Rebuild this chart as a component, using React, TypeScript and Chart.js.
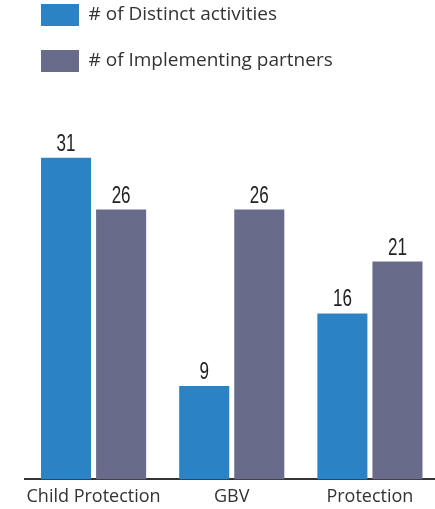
import React, { useEffect, useRef } from "react";
import { Chart, registerables } from "chart.js";

Chart.register(...registerables);

const categories = ["Child Protection", "GBV", "Protection"];
const seriesLabels = ["# of Distinct activities", "# of Implementing partners"];
const distinctActivities = [31, 9, 16];
const implementingPartners = [26, 26, 21];
const seriesColors = ["#2b82c4", "#686b8a"];
const Y_MAX = 38.3;

const valueLabelPlugin = {
  id: "valueLabels",
  afterDatasetsDraw(chart: any) {
    const ctx = chart.ctx;
    chart.data.datasets.forEach((ds: any, i: number) => {
      const meta = chart.getDatasetMeta(i);
      meta.data.forEach((bar: any, j: number) => {
        ctx.save();
        ctx.fillStyle = "#222222";
        ctx.font = "23px 'Liberation Sans', Arial, sans-serif";
        ctx.textAlign = "center";
        ctx.textBaseline = "alphabetic";
        ctx.translate(bar.x, bar.y - 7);
        ctx.scale(0.74, 1);
        ctx.fillText(String(ds.data[j]), 0, 0);
        ctx.restore();
      });
    });
  },
};

export default function App() {
  const canvasRef = useRef<HTMLCanvasElement | null>(null);

  useEffect(() => {
    if (!canvasRef.current) return;
    const chart = new Chart(canvasRef.current, {
      type: "bar",
      data: {
        labels: categories,
        datasets: [
          {
            label: seriesLabels[0],
            data: distinctActivities,
            backgroundColor: seriesColors[0],
            borderWidth: 0,
          },
          {
            label: seriesLabels[1],
            data: implementingPartners,
            backgroundColor: seriesColors[1],
            borderWidth: 0,
          },
        ],
      },
      options: {
        animation: false,
        responsive: true,
        maintainAspectRatio: false,
        layout: { padding: { left: 17, right: 0, top: -20, bottom: -6 } },
        datasets: {
          bar: { categoryPercentage: 110 / 138, barPercentage: 50 / 55 },
        },
        plugins: {
          legend: {
            position: "top",
            align: "start",
            labels: {
              boxWidth: 38,
              boxHeight: 22,
              padding: 24,
              color: "#333333",
              font: { family: "'Open Sans', Lato, sans-serif", size: 19 },
            },
          },
          tooltip: { enabled: false },
        },
        scales: {
          x: {
            grid: { display: false, drawTicks: false },
            border: { display: true, color: "#333333", width: 2 },
            ticks: {
              color: "#333333",
              padding: 7,
              maxRotation: 0,
              minRotation: 0,
              autoSkip: false,
              font: { family: "'Open Sans', Lato, sans-serif", size: 18 },
            },
          },
          y: {
            min: 0,
            max: Y_MAX,
            grid: { display: false, drawTicks: false },
            border: { display: false },
            ticks: { display: false },
            afterFit: (scale: any) => {
              scale.width = 7.5;
            },
          },
        },
      },
      plugins: [valueLabelPlugin],
    });
    return () => chart.destroy();
  }, []);

  return (
    <div
      style={{
        position: "absolute",
        left: 0,
        top: 0,
        width: 435,
        height: 509,
        overflow: "hidden",
        background: "#ffffff",
      }}
    >
      <div style={{ position: "relative", width: 439, height: 509 }}>
        <canvas ref={canvasRef} />
      </div>
    </div>
  );
}
